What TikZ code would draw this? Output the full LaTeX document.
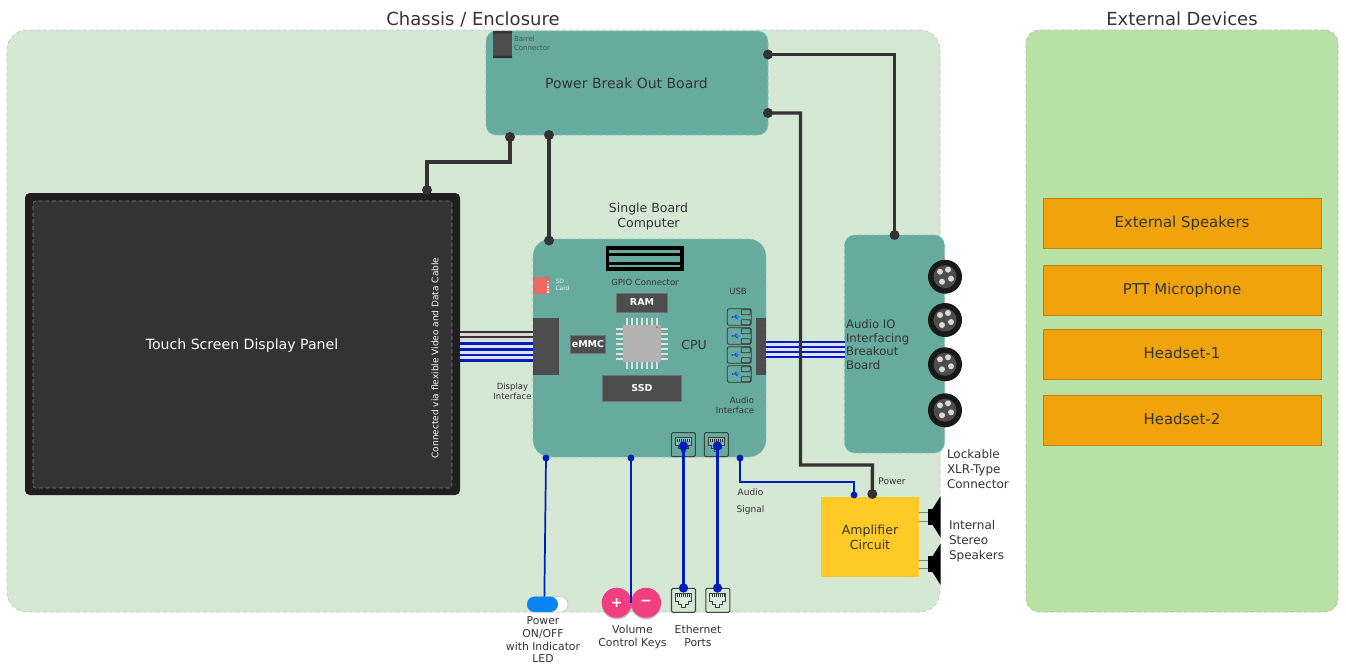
\documentclass[tikz,border=0pt]{standalone}
\usepackage{fontspec}
\setmainfont{DejaVu Sans}
\definecolor{chassis}{HTML}{D5E8D4}
\definecolor{extern}{HTML}{B9E0A5}
\definecolor{board}{HTML}{67AB9F}
\definecolor{dk}{HTML}{333333}
\definecolor{chipbox}{HTML}{4D4D4D}
\definecolor{wireblue}{HTML}{001DBC}
\definecolor{orangebox}{HTML}{F0A30A}
\definecolor{amber}{HTML}{FFC926}
\definecolor{pink}{HTML}{F0407F}
\definecolor{toggle}{HTML}{0A84F5}
\definecolor{txt}{HTML}{333333}
\definecolor{sdcard}{HTML}{EA6B66}
\newcommand\fpx[2]{\pgfmathsetmacro\fsz{#1*0.75}\pgfmathsetmacro\fsl{#2*0.75}\fontsize{\fsz}{\fsl}\selectfont}
\tikzset{
  x=0.75pt,y=-0.75pt,
  wh/.style 2 args={minimum width=#1*0.75pt,minimum height=#2*0.75pt,inner sep=0pt,outer sep=0pt},
  fs/.style={font=\fpx{#1}{#1*1.25}},
  fsl/.style 2 args={font=\fpx{#1}{#2}},
  lab/.style={text=txt,inner sep=0pt,outer sep=0pt,align=center},
  labl/.style={text=txt,inner sep=0pt,outer sep=0pt,align=left},
  labr/.style={text=txt,inner sep=0pt,outer sep=0pt,align=right},
  boardbox/.style={rectangle,rounded corners=7.5pt,fill=board,draw=board!75!white,densely dashed,line width=.5pt,text=txt},
  icbox/.style={rectangle,fill=chipbox,draw=chipbox!80!white,line width=.3pt,text=white},
  orbox/.style={rectangle,fill=orangebox,draw=orangebox!80!black,line width=.5pt,text=txt,wh={278}{50},fs=14.9,text height=7.4pt,text depth=0pt},
  dkdot/.style={circle,fill=dk,minimum size=7.5pt,inner sep=0pt,outer sep=0pt},
  bldot/.style={circle,fill=wireblue,minimum size=5.2pt,inner sep=0pt,outer sep=0pt},
  dkwire/.style={draw=dk,line width=2.6pt,line join=miter},
  blwire/.style={draw=wireblue,line width=1.3pt},
  blthick/.style={draw=wireblue,line width=2.8pt},
  pics/ethport/.style={code={
    \draw[fill=none,draw=dk!85!board,line width=.8pt,rounded corners=1pt] (-12,-12) rectangle (12,12);
    \draw[draw=dk!85!board,fill=white,fill opacity=.2,line width=.6pt] (-8,-7) -- (8,-7) -- (8,1) -- (5,1) -- (5,4) -- (2,4) -- (2,7) -- (-2,7) -- (-2,4) -- (-5,4) -- (-5,1) -- (-8,1) -- cycle;
    \foreach \i in {-6,-4,-2,0,2,4,6} \draw[dk,line width=.4pt] (\i,-6) -- (\i,-3);
  }},
  pics/usbport/.style={code={
    \draw[draw=dk,line width=.6pt,rounded corners=1.5pt] (0,0) rectangle (24,16.6);
    \draw[draw=dk,line width=.6pt,rounded corners=.5pt] (14,1) rectangle (23,6);
    \draw[draw=dk,line width=.6pt,rounded corners=.5pt] (14,11) rectangle (23,16);
    \draw[draw=blue!70!cyan,line width=.6pt] (5,8.3) -- (12,8.3) (7,8.3) -- (8.5,6.5) -- (10,6.5) (8,8.3) -- (9.5,10) -- (10.5,10);
    \fill[blue!70!cyan] (5,8.3) circle (1);
  }},
  pics/xlr/.style={code={
    \fill[black!90] (0,0) circle (17);
    \fill[chipbox] (0,0) circle (11.5);
    \fill[white!85!black] (-5,-5) circle (3) (3,-7) circle (3) (6,2) circle (3) (-3,5) circle (3);
  }},
  pics/spk/.style={code={
    \draw[gray,line width=.7pt] (0,-4.2) -- (9,-4.2) (0,4.2) -- (9,4.2);
    \fill[black] (9,-8) rectangle (13.5,8);
    \fill[black] (13.5,-8) -- (21.5,-20.5) -- (21.5,20.5) -- (13.5,8) -- cycle;
  }},
}
\begin{document}
\begin{tikzpicture}
\useasboundingbox (0,0) rectangle (1346,664);
% Containers
\node[rectangle,rounded corners=15pt,fill=chassis,draw=chassis!70!gray,densely dashed,line width=.5pt,wh={933}{582}] (chassis) at (473.5,321) {};
\node[rectangle,rounded corners=10pt,fill=extern,draw=extern!70!gray,densely dashed,line width=.5pt,wh={312}{582}] (external) at (1182,321) {};
\node[lab,fs=18] (tchassis) at (473,19) {Chassis / Enclosure};
\node[lab,fs=18] (texternal) at (1182,19) {External Devices};
% Power board
\node[boardbox,wh={282}{104}] (power) at (627,83) {};
\node[lab,fs=14] (tpower) at (626.5,83.5) {Power Break Out Board};
\node[rectangle,fill=chipbox,wh={19}{27}] (barrel) at (502.5,44.5) {};
\fill[black!80] (493,31) rectangle (512,33.5) (493,55.5) rectangle (512,58);
\node[labl,fs=7,text=dk!70!board,anchor=west] (tbarrel) at (514,43.5) {Barrel\\Connector};
% Display
\node[rectangle,rounded corners=3.5pt,fill=black!88,wh={435}{302}] (dispouter) at (242.5,344) {};
\node[rectangle,rounded corners=2pt,fill=black!80,draw=gray,densely dashed,line width=.4pt,wh={419}{287}] (disp) at (242.5,344.5) {};
\node[lab,fs=14.1,text=white] (tdisp) at (242,345.5) {Touch Screen Display Panel};
\node[lab,fs=9,text=white,rotate=90] (tcable) at (435,358) {Connected via flexible Video and Data Cable};
% SBC
\node[boardbox,wh={233}{218},rounded corners=13pt] (sbc) at (649.5,348) {};
\node[lab,fsl={12.5}{14.5}] (tsbc) at (648.5,216.5) {Single Board\\Computer};
\node[rectangle,fill=black,wh={78}{25}] (gpio) at (644.5,258.5) {};
\foreach \a/\b in {250/252.7,256/261.7,264.7/267.3} \fill[board] (609,\a) rectangle (680,\b);
\node[lab,fs=8.5] (tgpio) at (645,282.5) {GPIO Connector};
\node[rectangle,fill=sdcard,wh={17}{17}] (sd) at (541.5,285.5) {};
\foreach \i in {0,...,4} \fill[white] (546.5,281+\i*2.6) rectangle (548.5,282.3+\i*2.6);
\node[labl,fs=6,text=white!85!board,anchor=west] (tsd) at (555.5,285) {SD\\Card};
\node[icbox,wh={51}{19},fs=9.5] (ram) at (642,302.5) {\textbf{RAM}};
\node[icbox,wh={35}{18},fs=9.5] (emmc) at (588,344) {\textbf{eMMC}};
\node[icbox,wh={79}{26},fs=9.5] (ssd) at (642,388.5) {\textbf{SSD}};
\foreach \i in {0,...,6} {
  \fill[white!88!black] (627+\i*5-1,318) rectangle (627+\i*5+1,325);
  \fill[white!88!black] (627+\i*5-1,362) rectangle (627+\i*5+1,369);
  \fill[white!88!black] (616,329+\i*5-1) rectangle (623,329+\i*5+1);
  \fill[white!88!black] (661,329+\i*5-1) rectangle (668,329+\i*5+1);
}
\node[rectangle,fill=black!30,rounded corners=.6pt,wh={38}{37}] (cpu) at (642,343.5) {};
\fill[black!50] (657,327.5) circle (1.2);
\node[lab,fs=12.5] (tcpu) at (694,344.5) {CPU};
\node[rectangle,fill=chipbox,wh={26}{57}] (conl) at (546,346.5) {};
\node[rectangle,fill=chipbox,wh={10}{57}] (conr) at (761,346.5) {};
\node[lab,fs=8.5] (tusb) at (738,291) {USB};
\foreach \yy in {308.7,327.7,346.7,365.7} \pic at (727.3,\yy) {usbport};
\node[lab,fsl={8.5}{10}] (tdispif) at (512.5,391.5) {Display\\Interface};
\node[labr,fsl={8.5}{10},anchor=east] (taudif) at (754,405.5) {Audio\\Interface};
\pic at (683.3,444.7) {ethport};
\pic at (716.3,444.7) {ethport};
% Audio board
\node[boardbox,wh={100}{218}] (audio) at (894.5,344) {};
\node[labl,fsl={11.7}{13.7},anchor=west] (taudio) at (846,344.5) {Audio IO\\Interfacing\\Breakout\\Board};
\pic at (945,276.7) {xlr};
\pic at (945,320) {xlr};
\pic at (945,364.3) {xlr};
\pic at (945,410.3) {xlr};
\node[labl,fsl={12}{15},anchor=west] (txlr) at (947,469) {Lockable\\XLR-Type\\Connector};
% Amp and speakers
\node[rectangle,fill=amber,wh={98}{80},fsl={12.5}{15},text=txt,align=center] (amp) at (870,537) {Amplifier\\Circuit};
\pic at (919,516.8) {spk};
\pic at (919,564.2) {spk};
\node[labl,fsl={12}{15},anchor=west] (tspk) at (949,541) {Internal\\Stereo\\Speakers};
% Externals
\node[orbox] (ext1) at (1182,223) {External Speakers};
\node[orbox] (ext2) at (1182,290) {PTT Microphone};
\node[orbox] (ext3) at (1182,354) {Headset-1};
\node[orbox] (ext4) at (1182,420) {Headset-2};
% Front-panel parts
\pic at (683.5,600.3) {ethport};
\pic at (717.8,600.3) {ethport};
\node[rectangle,rounded corners=5.8pt,fill=white,draw=black!25,line width=.4pt,wh={41}{15.5}] (switch) at (547.5,604.3) {};
\node[rectangle,rounded corners=5.8pt,fill=toggle,wh={31}{15.5}] (switchon) at (542.5,604.3) {};
\fill[black!25] (617,604.4) circle (15) (646,604.4) circle (15);
\node[circle,fill=pink,minimum size=22.5pt,inner sep=0pt,fs=14,text=white] (plus) at (616.7,602.7) {\textbf{+}};
\node[circle,fill=pink,minimum size=22.5pt,inner sep=0pt,fs=14,text=white] (minus) at (646,602.7) {\textbf{−}};
\node[lab,fsl={10.8}{12.7}] (tpwr) at (543,640) {Power\\ON/OFF\\with Indicator\\LED};
\node[lab,fsl={10.9}{13}] (tvol) at (632.5,637) {Volume\\Control Keys};
\node[lab,fsl={10.8}{13}] (teth) at (698,636) {Ethernet\\Ports};
\node[lab,fsl={9}{17}] (tas) at (750.5,502) {Audio\\Signal};
\node[lab,fs=9] (tpw) at (892,481) {Power};
% Cables
\fill[white!70!gray] (460,330) rectangle (533,339.5);
\fill[blue!12!white] (460,341) rectangle (533,362);
\fill[blue!12!white] (766,341) rectangle (845,359);
\foreach \yy in {332,337} \draw[black!80,line width=1.6pt] (dispouter.east |- 0,\yy) -- (conl.west |- 0,\yy);
\foreach \yy in {343.5,349.5,355,360.5} \draw[wireblue,line width=2.2pt] (dispouter.east |- 0,\yy) -- (conl.west |- 0,\yy);
\foreach \yy in {342.3,346.9,352.3,357.3} \draw[wireblue,line width=1.4pt] (conr.east |- 0,\yy) -- (audio.west |- 0,\yy);
% Port dots
\node[dkdot] (pd1) at (510,137) {};
\node[dkdot] (pd2) at (549,135) {};
\node[dkdot] (pr1) at (768,54.5) {};
\node[dkdot] (pr2) at (768,113) {};
\node[dkdot] (dd) at (427,190) {};
\node[dkdot] (sd1) at (549,240.5) {};
\node[dkdot] (ad) at (894.5,235) {};
\node[dkdot] (ampd) at (872.3,494) {};
\node[bldot] (sb1) at (546,458) {};
\node[bldot] (sb2) at (631,458) {};
\node[bldot] (sb3) at (740,458) {};
\node[bldot] (ampb) at (854,495) {};
\node[bldot,minimum size=7pt] (se1) at (683.5,446) {};
\node[bldot,minimum size=7pt] (se2) at (717.5,446) {};
\node[bldot,minimum size=7pt] (fe1) at (683.5,588) {};
\node[bldot,minimum size=7pt] (fe2) at (717.5,588) {};
% Connectors
\draw[dkwire] (dd.center) -- ++(0,-28) -| (pd1.center);
\draw[dkwire] (pd2.center) -- (sd1.center);
\draw[dkwire] (pr1.center) -| (ad.center);
\draw[dkwire] (pr2.center) -- ++(32.5,0) |- ++(72,352) -- (ampd.center);
\draw[blwire] (sb1.center) -- ([xshift=1.4pt]switchon.north);
\draw[blwire] (sb2.center) -- (sb2.center |- minus.center);
\draw[blwire] (sb3.center) -- ++(0,24) -| (ampb.center);
\draw[blthick] (se1.center) -- (fe1.center);
\draw[blthick] (se2.center) -- (fe2.center);
\end{tikzpicture}
\end{document}
